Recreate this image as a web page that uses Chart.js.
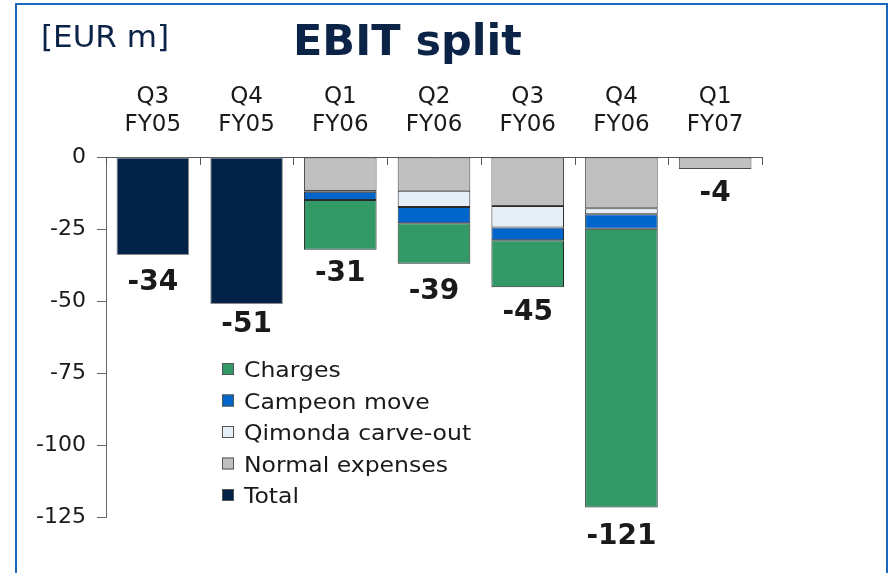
<!DOCTYPE html>
<html>
<head>
<meta charset="utf-8">
<script src="https://cdn.jsdelivr.net/npm/chart.js@4/dist/chart.umd.min.js"></script>
<style>
  html, body { margin: 0; padding: 0; background: #ffffff; overflow: hidden; }
  #wrap { position: relative; width: 891px; height: 573px; }
  #frame { position: absolute; left: 15px; top: 3px; width: 873px; height: 620px; border: 2px solid #1a67c0; box-sizing: border-box; pointer-events: none; }
  canvas { position: absolute; left: 0; top: 0; }
</style>
</head>
<body>
<div id="wrap">
  <canvas id="c" width="891" height="573"></canvas>
  <div id="frame"></div>
</div>
<script>
// ---- data ----
const categories = [['Q3','FY05'], ['Q4','FY05'], ['Q1','FY06'], ['Q2','FY06'], ['Q3','FY06'], ['Q4','FY06'], ['Q1','FY07']];
const normalExpenses   = [null, null, -11.8, -11.7, -17.0, -17.8, -4.2];
const qimondaCarveOut  = [null, null, -0.3, -5.7, -7.5, -2.1, null];
const campeonMove      = [null, null, -2.8, -5.6, -4.4, -5.0, null];
const charges          = [null, null, -17.3, -14.1, -16.3, -96.8, null];
const total            = [-34, -51, null, null, null, null, null];
const totalLabels      = ['-34', '-51', '-31', '-39', '-45', '-121', '-4'];
const yTicks           = [0, -25, -50, -75, -100, -125];
const unitLabel = '[EUR m]';
const chartTitle = 'EBIT split';

const FONT = "'DejaVu Sans', Verdana, sans-serif";
const colors = {
  charges: '#339966', campeon: '#0066cc', qimonda: '#e6eef7', normal: '#c0c0c0', total: '#022248'
};

const ds = (label, data, color, border) => ({
  label, data, backgroundColor: color, borderColor: border, borderWidth: 1,
  borderSkipped: false, barPercentage: 0.775, categoryPercentage: 1.0, stack: 's'
});

const datasets = [
  ds('Normal expenses', normalExpenses, colors.normal, '#4a4a4a'),
  ds('Qimonda carve-out', qimondaCarveOut, colors.qimonda, '#2a2a2a'),
  ds('Campeon move', campeonMove, colors.campeon, '#2a2a2a'),
  ds('Charges', charges, colors.charges, '#2a2a2a'),
  ds('Total', total, colors.total, '#8a8a8a')
];
const legendOrder = ['Charges', 'Campeon move', 'Qimonda carve-out', 'Normal expenses', 'Total'];
const labelGap = [15, 8, 11, 15, 13, 17, 12];

const decor = {
  id: 'decor',
  afterDraw(chart) {
    const ctx = chart.ctx;
    const x = chart.scales.x, y = chart.scales.y;
    ctx.save();
    // header texts
    ctx.fillStyle = '#0b2346';
    ctx.textBaseline = 'alphabetic';
    ctx.textAlign = 'left';
    ctx.font = '31px ' + FONT;
    ctx.fillText(unitLabel, 41, 47);
    ctx.font = 'bold 43px ' + FONT;
    ctx.fillText(chartTitle, 293, 55);

    // downward tick marks on top x axis at category boundaries
    ctx.strokeStyle = '#555';
    ctx.lineWidth = 1;
    for (let i = 0; i <= categories.length; i++) {
      const px = Math.round(x.getPixelForValue(i - 0.5)) + 0.5;
      ctx.beginPath();
      ctx.moveTo(px, y.getPixelForValue(0));
      ctx.lineTo(px, y.getPixelForValue(0) + 8);
      ctx.stroke();
    }

    // total labels below each bar
    ctx.fillStyle = '#1a1a1a';
    ctx.font = 'bold 28px ' + FONT;
    ctx.textAlign = 'center';
    for (let i = 0; i < categories.length; i++) {
      let sum = 0;
      chart.data.datasets.forEach(d => { if (d.data[i] != null) sum += d.data[i]; });
      const bottom = y.getPixelForValue(sum);
      ctx.fillText(totalLabels[i], x.getPixelForValue(i), bottom + labelGap[i] + 20);
    }

    // legend inside the plot
    ctx.font = '22px ' + FONT;
    ctx.textAlign = 'left';
    legendOrder.forEach((name, k) => {
      const d = chart.data.datasets.find(dd => dd.label === name);
      const top = 363 + 31.5 * k;
      ctx.fillStyle = d.backgroundColor;
      ctx.fillRect(222, top, 12, 12);
      ctx.strokeStyle = '#555';
      ctx.strokeRect(222.5, top + 0.5, 11, 11);
      ctx.fillStyle = '#1a1a1a';
      ctx.save();
      ctx.translate(244, top + 14);
      ctx.scale(1.07, 1);
      ctx.fillText(name, 0, 0);
      ctx.restore();
    });
    ctx.restore();
  }
};

new Chart(document.getElementById('c'), {
  type: 'bar',
  data: { labels: categories, datasets },
  options: {
    responsive: false,
    animation: false,
    devicePixelRatio: 1,
    layout: { padding: { top: 0, left: 0, right: 129, bottom: 56 } },
    plugins: { legend: { display: false }, title: { display: false }, tooltip: { enabled: false } },
    scales: {
      x: {
        position: 'top',
        stacked: true,
        grid: { display: false, drawTicks: false },
        border: { display: true, color: '#555', width: 1 },
        ticks: { color: '#1a1a1a', font: { family: FONT, size: 23, lineHeight: 1.2174 }, padding: 18, maxRotation: 0, autoSkip: false },
        afterFit(s) { s.height = 157; }
      },
      y: {
        stacked: true,
        min: -125, max: 0,
        afterBuildTicks(s) { s.ticks = yTicks.map(v => ({ value: v })); },
        grid: { display: true, drawOnChartArea: false, drawTicks: true, tickLength: 9, color: '#666' },
        border: { display: true, color: '#666', width: 1 },
        ticks: { color: '#1a1a1a', font: { family: FONT, size: 22 }, padding: 11 },
        afterFit(s) { s.width = 106; }
      }
    }
  },
  plugins: [decor]
});
</script>
</body>
</html>
